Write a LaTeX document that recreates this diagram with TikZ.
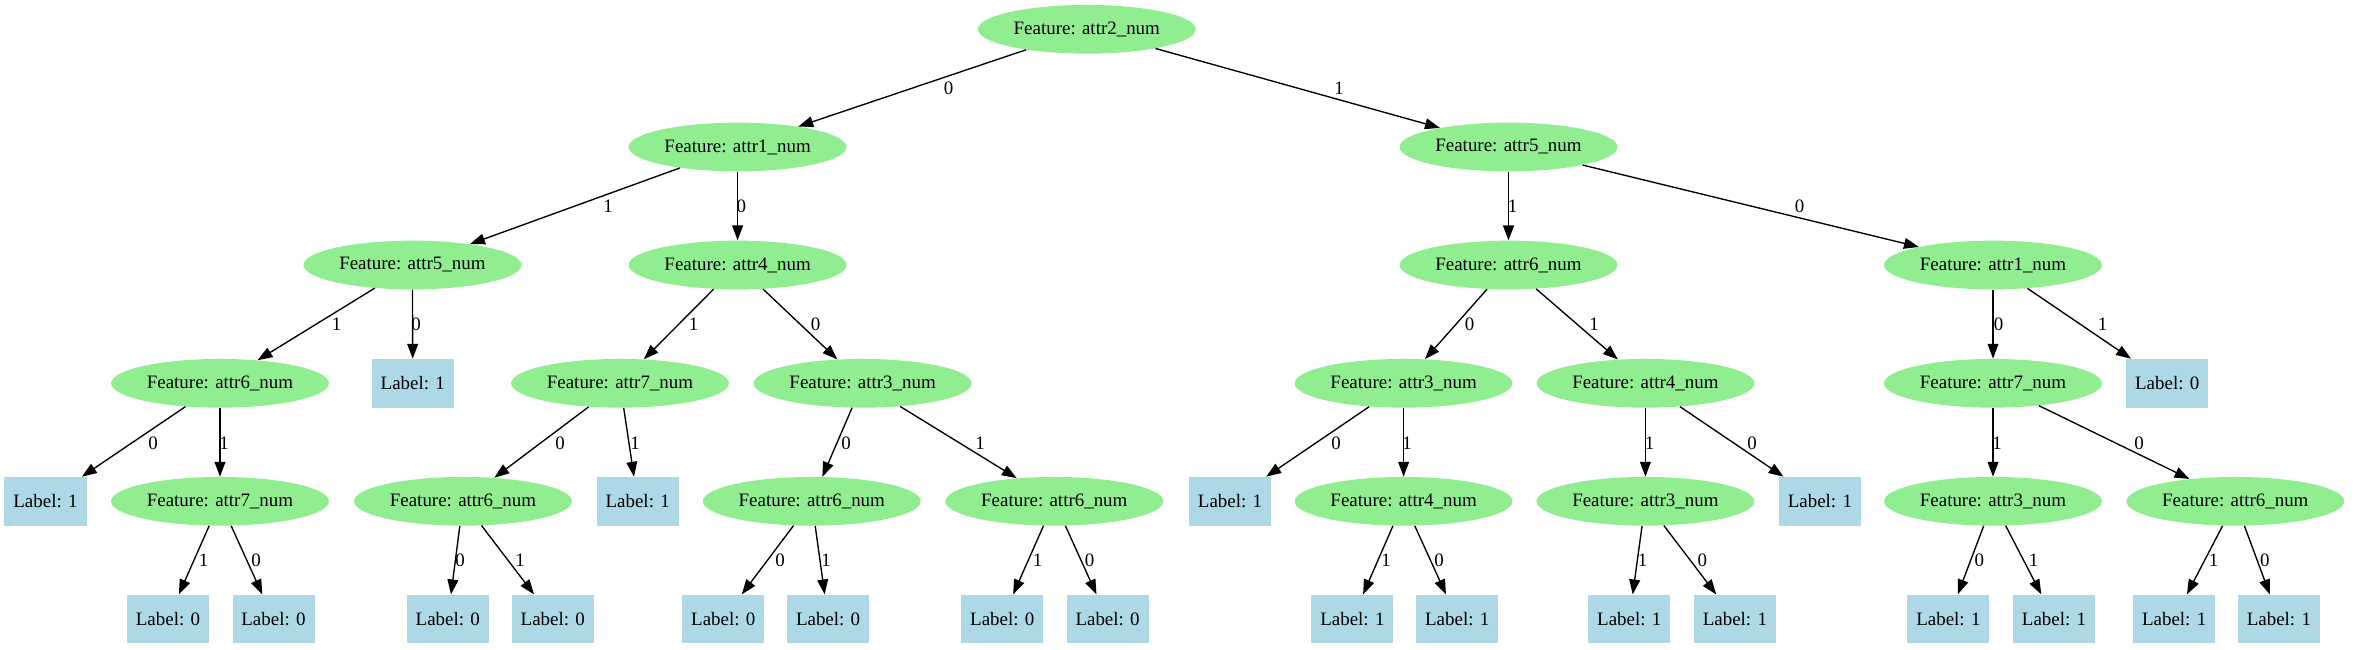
\documentclass[tikz,border=0pt]{standalone}
\usepackage{fontspec}
\setmainfont{Liberation Serif}
\usetikzlibrary{shapes.geometric,arrows.meta}
\definecolor{featgreen}{RGB}{144,238,144}
\definecolor{leafblue}{RGB}{173,216,230}

\begin{document}
\begin{tikzpicture}[x=0.739pt, y=-0.739pt, font=\fontsize{14}{16}\selectfont,
	feat/.style={ellipse, fill=featgreen, minimum width=161pt, minimum height=36pt, inner sep=0pt},
	leaf/.style={rectangle, fill=leafblue, minimum width=60.6pt, minimum height=36pt, inner sep=0pt},
	edge/.style={-{Triangle[length=11pt,width=8pt]}, line width=1pt}]
	\useasboundingbox (0,0) rectangle (2354,649);
	%features
	\foreach \n/\x/\y/\a in {
		t/1086.8/29.3/2,
		t0/737.6/147/1,
		t1/1508.5/147/5,
		t01/412.4/265/5,
		t00/737.6/265/4,
		t11/1508.5/265/6,
		t10/1993/265/1,
		t011/220/383.3/6,
		t001/620/383.3/7,
		t000/862.6/383.3/3,
		t110/1403.6/383.3/3,
		t111/1645.4/383.3/4,
		t100/1993/383.3/7,
		t0111/220/501.3/7,
		t0010/463/501.3/6,
		t0000/811.8/501.3/6,
		t0001/1054.3/501.3/6,
		t1101/1403.6/501.3/4,
		t1111/1645.4/501.3/3,
		t1001/1993/501.3/3,
		t1000/2235.3/501.3/6%
	}
	\node[feat] (\n) at (\x,\y) {Feature: attr\a\_num};
	%labels
	\foreach \n/\x/\y/\v in {
		t010/412.8/383.3/1,
		t101/2167.2/383.3/0,
		t0110/45.5/501.3/1,
		t0011/637.7/501.3/1,
		t1100/1230/501.3/1,
		t1110/1819.9/501.3/1,
		t01111/168/619/0,
		t01110/273.5/619/0,
		t00100/447.8/619/0,
		t00101/552.8/619/0,
		t00000/723.3/619/0,
		t00001/828.1/619/0,
		t00011/1002.3/619/0,
		t00010/1107.6/619/0,
		t11011/1352.4/619/1,
		t11010/1457.2/619/1,
		t11111/1629.3/619/1,
		t11110/1734.9/619/1,
		t10010/1948.4/619/1,
		t10011/2054/619/1,
		t10001/2174.1/619/1,
		t10000/2278.9/619/1%
	}
	\node[leaf] (\n) at (\x,\y) {Label: \v};
	%edges
	\foreach \a/\b/\t/\x/\y in {
		t/t0/0/948.7/88.3,
		t/t1/1/1339/88.3,
		t0/t01/1/608/206.7,
		t0/t00/0/741.4/206.7,
		t1/t11/1/1512.7/206.7,
		t1/t10/0/1799.6/206.7,
		t01/t011/1/336.5/324,
		t01/t010/0/416/324,
		t00/t001/1/693.5/324,
		t00/t000/0/815.5/324,
		t11/t110/0/1469.5/324,
		t11/t111/1/1594/324,
		t10/t100/0/1998.5/324,
		t10/t101/1/2102.5/324,
		t011/t0110/0/153/443,
		t011/t0111/1/224/443,
		t001/t0010/0/560/443,
		t001/t0011/1/635/443,
		t000/t0000/0/846/443,
		t000/t0001/1/980/443,
		t110/t1100/0/1336/443,
		t110/t1101/1/1407/443,
		t111/t1111/1/1649.6/443,
		t111/t1110/0/1752/443,
		t100/t1001/1/1997/443,
		t100/t1000/0/2139/443,
		t0111/t01111/1/203.5/560,
		t0111/t01110/0/256/560,
		t0010/t00100/0/460/560,
		t0010/t00101/1/520/560,
		t0000/t00000/0/780/560,
		t0000/t00001/1/826/560,
		t0001/t00011/1/1037.5/560,
		t0001/t00010/0/1089.5/560,
		t1101/t11011/1/1386/560,
		t1101/t11010/0/1439/560,
		t1111/t11111/1/1642.7/560,
		t1111/t11110/0/1702.4/560,
		t1001/t10010/0/1979.4/560,
		t1001/t10011/1/2033.7/560,
		t1000/t10001/1/2213.5/560,
		t1000/t10000/0/2264.8/560%
	}
	{
		\draw[edge] (\a) -- (\b);
		\node (e\b) at (\x,\y) {\t};
	}
\end{tikzpicture}
\end{document}
